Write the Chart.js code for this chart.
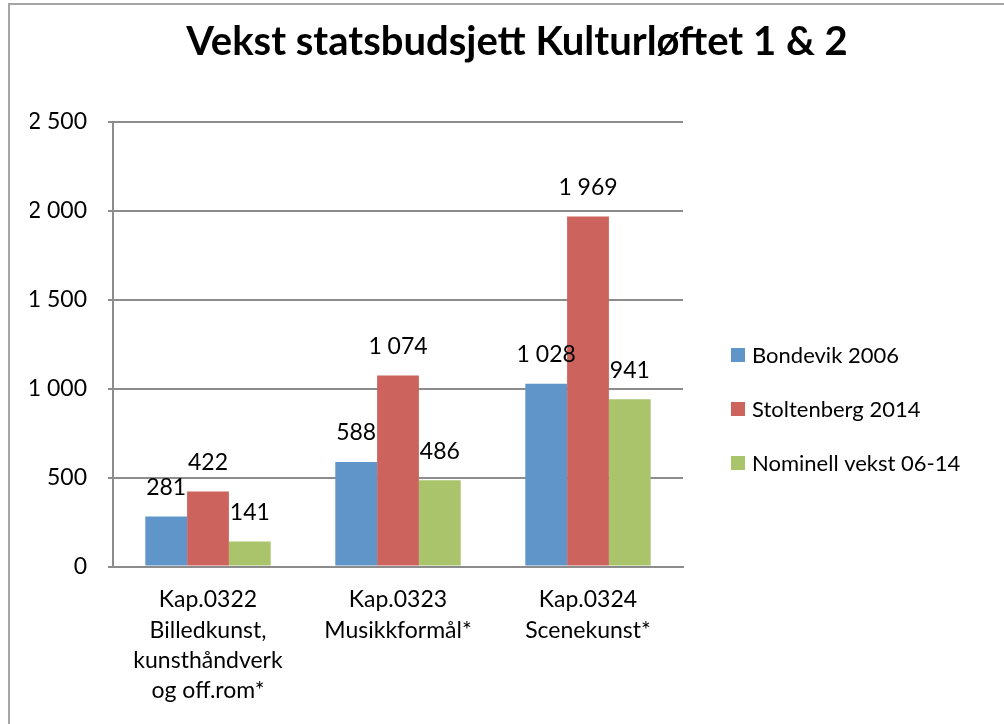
<!DOCTYPE html>
<html>
<head>
<meta charset="utf-8">
<script src="https://cdn.jsdelivr.net/npm/chart.js@4.4.1/dist/chart.umd.min.js"></script>
<style>
  html, body { margin:0; padding:0; background:#fff; }
  #wrap { position:relative; width:1004px; height:724px; overflow:hidden; }
  #frame { position:absolute; left:8px; top:3px; width:1100px; height:800px; border:2px solid #a6a6a6; box-sizing:border-box; }
  #c { position:absolute; left:0; top:0; }
</style>
</head>
<body>
<div id="wrap">
  <div id="frame"></div>
  <canvas id="c" width="1004" height="724"></canvas>
</div>
<script>
const categories = [
  ['Kap.0322', 'Billedkunst,', 'kunsthåndverk', 'og off.rom*'],
  ['Kap.0323', 'Musikkformål*'],
  ['Kap.0324', 'Scenekunst*']
];
const seriesNames = ['Bondevik 2006', 'Stoltenberg 2014', 'Nominell vekst 06-14'];
const bondevik = [281, 588, 1028];
const stoltenberg = [422, 1074, 1969];
const nominell = [141, 486, 941];
const colors = ['#6095c9', '#cd635d', '#aac46b'];

const fmt = v => String(v).replace(/\B(?=(\d{3})+(?!\d))/g, ' ');
const FONT = 'Lato, "Open Sans", sans-serif';

// value labels above each bar
const valueLabels = {
  id: 'valueLabels',
  afterDatasetsDraw(chart) {
    const ctx = chart.ctx;
    ctx.save();
    ctx.font = '23px ' + FONT;
    ctx.fillStyle = '#000';
    ctx.textAlign = 'center';
    ctx.textBaseline = 'middle';
    chart.data.datasets.forEach((ds, i) => {
      chart.getDatasetMeta(i).data.forEach((bar, j) => {
        ctx.fillText(fmt(ds.data[j]), bar.x, bar.y - 29);
      });
    });
    ctx.restore();
  }
};

// legend to the right of the plot (built-in one is capped too narrow)
const sideLegend = {
  id: 'sideLegend',
  afterDraw(chart) {
    const ctx = chart.ctx, a = chart.chartArea;
    const x = a.right + 48, y0 = a.top + 233, step = 54;
    ctx.save();
    ctx.font = '22px ' + FONT;
    ctx.textBaseline = 'middle';
    ctx.textAlign = 'left';
    chart.data.datasets.forEach((ds, i) => {
      const y = y0 + i * step;
      ctx.fillStyle = ds.backgroundColor;
      ctx.fillRect(x, y - 7, 14, 14);
      ctx.fillStyle = '#000';
      ctx.fillText(ds.label, x + 21, y + 1);
    });
    ctx.restore();
  }
};

Chart.defaults.font.family = FONT;
Chart.defaults.color = '#000';

new Chart(document.getElementById('c'), {
  type: 'bar',
  data: {
    labels: categories,
    datasets: [
      { label: seriesNames[0], data: bondevik, backgroundColor: colors[0] },
      { label: seriesNames[1], data: stoltenberg, backgroundColor: colors[1] },
      { label: seriesNames[2], data: nominell, backgroundColor: colors[2] }
    ]
  },
  plugins: [valueLabels, sideLegend],
  options: {
    responsive: false,
    animation: false,
    layout: { padding: { left: 30, right: 0, bottom: 0 } },
    datasets: { bar: { categoryPercentage: 0.66, barPercentage: 1 } },
    plugins: {
      title: {
        display: true,
        text: 'Vekst statsbudsjett Kulturløftet 1 & 2',
        font: { size: 40, weight: 'bold' },
        color: '#000',
        padding: { top: 18, bottom: 56 }
      },
      legend: { display: false },
      tooltip: { enabled: false }
    },
    scales: {
      x: {
        grid: { display: false, drawTicks: false },
        border: { color: '#8c8c8c', width: 2 },
        ticks: { font: { size: 23, lineHeight: 1.32 }, padding: 18, maxRotation: 0, autoSkip: false }
      },
      y: {
        min: 0, max: 2500,
        grid: { color: '#8c8c8c', lineWidth: 2, tickLength: 5 },
        border: { color: '#8c8c8c', width: 2 },
        ticks: { stepSize: 500, font: { size: 23 }, padding: 21, callback: v => fmt(v) },
        afterFit(scale) { scale.width = 83; }
      },
      gap: {
        position: 'right',
        grid: { display: false, drawTicks: false },
        border: { display: false },
        ticks: { display: false },
        afterFit(scale) { scale.width = 321; }
      }
    }
  }
});
</script>
</body>
</html>
